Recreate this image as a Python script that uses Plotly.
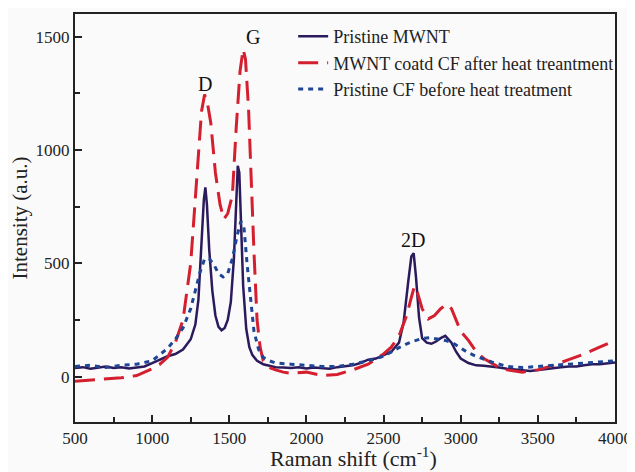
import plotly.graph_objects as go

# Pristine MWNT (solid)
mwnt_x = [500,550,600,650,700,750,800,850,900,950,1000,1050,1100,1150,1200,1250,1280,1300,1320,1335,1345,1355,1370,1390,1410,1430,1450,1470,1490,1510,1530,1545,1555,1565,1575,1590,1610,1630,1650,1680,1720,1760,1800,1850,1900,1950,2000,2050,2100,2150,2200,2250,2300,2350,2400,2450,2500,2550,2600,2630,2660,2680,2695,2710,2730,2750,2780,2810,2840,2870,2900,2920,2940,2970,3000,3050,3100,3150,3200,3250,3300,3350,3400,3450,3500,3550,3600,3650,3700,3750,3800,3850,3900,3950,4000]
mwnt_y = [38,42,35,40,45,38,42,36,40,45,60,75,90,100,120,165,230,340,570,780,835,760,560,380,270,220,205,215,250,330,520,760,930,900,700,400,210,130,95,70,55,48,42,40,38,42,36,40,38,35,42,45,50,60,75,80,95,110,150,240,420,530,545,440,260,170,150,145,155,170,180,165,150,110,80,60,50,48,45,40,35,30,28,25,30,35,38,42,45,45,50,55,55,60,62]

# MWNT coated CF after heat treatment (dashed)
red_x = [500,600,700,800,900,950,1000,1050,1100,1150,1200,1250,1280,1300,1320,1340,1360,1380,1410,1440,1465,1490,1520,1545,1570,1590,1605,1625,1645,1660,1680,1700,1720,1760,1800,1850,1900,2000,2100,2200,2300,2400,2500,2550,2600,2650,2680,2700,2720,2750,2790,2830,2870,2910,2940,2970,3000,3050,3100,3150,3200,3250,3300,3400,3500,3600,3700,3800,3900,4000]
red_y = [-20,-15,-10,-5,5,20,35,55,85,150,250,500,780,980,1170,1245,1200,1120,900,760,695,720,800,1100,1350,1445,1400,1180,800,550,250,130,70,40,30,20,15,20,5,10,30,55,100,130,180,270,350,400,370,300,255,270,300,320,300,250,200,160,110,80,60,40,30,20,30,50,75,100,130,160]

# Pristine CF before heat treatment (dotted)
blue_x = [500,600,700,800,900,1000,1100,1150,1200,1250,1280,1310,1340,1370,1400,1430,1460,1490,1520,1550,1575,1595,1615,1640,1660,1690,1720,1760,1800,1900,2000,2100,2200,2300,2400,2500,2600,2650,2700,2750,2800,2850,2900,2950,3000,3050,3100,3200,3300,3400,3500,3600,3700,3800,3900,4000]
blue_y = [45,50,40,50,55,70,125,165,215,300,380,460,520,520,495,455,440,455,520,620,685,660,500,330,200,120,85,70,60,55,50,45,45,55,70,90,128,145,158,168,172,165,160,148,128,105,90,65,45,40,45,50,55,60,65,70]

series_names = ["Pristine MWNT", "MWNT coatd CF after heat treantment", "Pristine CF before heat treatment"]

x_ticks = [500, 1000, 1500, 2000, 2500, 3000, 3500, 4000]
y_ticks = [0, 500, 1000, 1500]

peak_labels = ["D", "G", "2D"]
peak_x = [1345, 1655, 2690]
peak_y = [1290, 1500, 605]

x_title = "Raman shift (cm<sup>-1</sup>)"
y_title = "Intensity (a.u.)"

font_fam = "Liberation Serif, Times New Roman, serif"

fig = go.Figure()
fig.add_trace(go.Scatter(x=mwnt_x, y=mwnt_y, mode="lines", name=series_names[0],
                         line=dict(color="#2b1a5c", width=2.5)))
fig.add_trace(go.Scatter(x=red_x, y=red_y, mode="lines", name=series_names[1],
                         line=dict(color="#d41f2f", width=3, dash="20px,9px")))
fig.add_trace(go.Scatter(x=blue_x, y=blue_y, mode="lines", name=series_names[2],
                         line=dict(color="#1f4596", width=3, dash="5px,5px")))

for t, xx, yy in zip(peak_labels, peak_x, peak_y):
    fig.add_annotation(x=xx, y=yy, text=t, showarrow=False,
                       font=dict(family=font_fam, size=20, color="#111"))

# x-axis title as a paper-positioned text
fig.add_annotation(x=0.515, y=-0.086, xref="paper", yref="paper", text=x_title,
                   showarrow=False, xanchor="center", yanchor="middle", borderpad=0,
                   font=dict(family=font_fam, size=22, color="#222"))

axis_common = dict(showgrid=False, zeroline=False, showline=True, linecolor="#222",
                   linewidth=2, mirror=True, ticks="inside", ticklen=7, tickwidth=1.5,
                   tickcolor="#222", automargin=False,
                   tickfont=dict(family=font_fam, size=17, color="#222"))

fig.update_xaxes(range=[500, 4000], tickvals=x_ticks,
                 minor=dict(ticks="inside", ticklen=5, tickwidth=1.5, tickcolor="#222", dtick=250),
                 **axis_common)
fig.update_yaxes(range=[-200, 1600], tickvals=y_ticks,
                 minor=dict(ticks="inside", ticklen=5, tickwidth=1.5, tickcolor="#222", dtick=250),
                 title=dict(text=y_title, font=dict(family=font_fam, size=21, color="#222"), standoff=4),
                 **axis_common)

fig.update_layout(
    width=635, height=472,
    margin=dict(l=67, r=28, t=6, b=58),
    paper_bgcolor="#fafafa", plot_bgcolor="#fafafa",
    showlegend=True,
    legend=dict(x=0.404, y=0.99, xanchor="left", yanchor="top", bgcolor="rgba(0,0,0,0)",
                font=dict(family=font_fam, size=18, color="#222"), tracegroupgap=0),
)

fig.write_html("out.html")
